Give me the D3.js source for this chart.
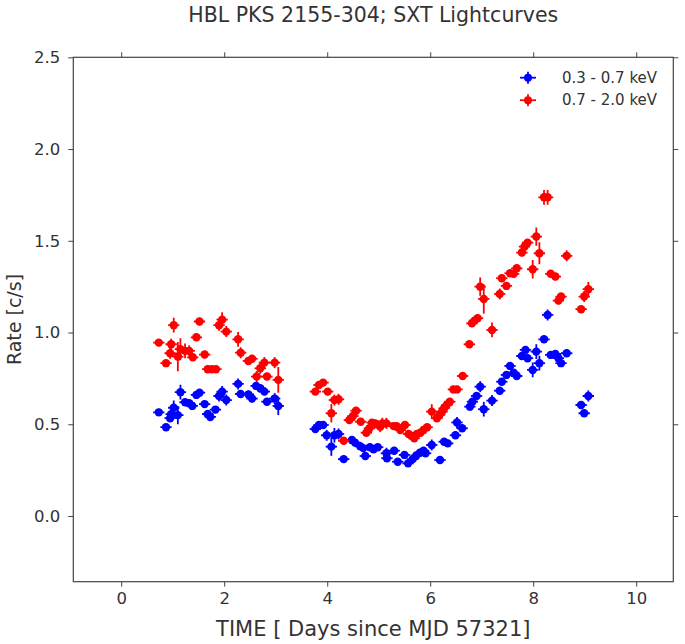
<!DOCTYPE html>
<html>
<head>
<meta charset="utf-8">
<script src="https://cdn.jsdelivr.net/npm/d3@7"></script>
<style>
  html, body { margin: 0; padding: 0; background: #ffffff; }
  svg { display: block; font-family: "DejaVu Sans", sans-serif; }
</style>
</head>
<body>
<svg id="chart" width="685" height="644"></svg>
<script>
// ---- Data ----
const softTime = [0.73, 0.87, 0.95, 0.97, 1.02, 1.10, 1.15, 1.24, 1.32, 1.38, 1.46, 1.52, 1.62, 1.68, 1.73, 1.83, 1.90, 1.96, 2.04, 2.27, 2.32, 2.47, 2.54, 2.62, 2.70, 2.78, 2.83, 2.98, 3.05,
  3.77, 3.84, 3.92, 3.99, 4.08, 4.14, 4.22, 4.32, 4.48, 4.54, 4.64, 4.70, 4.74, 4.83, 4.90, 4.98, 5.15, 5.16, 5.30, 5.37, 5.50, 5.57, 5.66, 5.73, 5.80, 5.87, 5.91, 6.03, 6.19, 6.27, 6.34, 6.49, 6.52, 6.62,
  6.77, 6.82, 6.90, 6.97, 7.04, 7.20, 7.35, 7.39, 7.48, 7.55, 7.62, 7.68, 7.78, 7.85, 7.89, 7.99, 8.06, 8.12, 8.21, 8.28, 8.34, 8.43, 8.49, 8.54, 8.65, 8.93, 8.99, 9.07];
const softRate = [0.565, 0.484, 0.533, 0.555, 0.59, 0.55, 0.675, 0.62, 0.615, 0.60, 0.66, 0.672, 0.61, 0.556, 0.54, 0.58, 0.654, 0.678, 0.632, 0.72, 0.665, 0.663, 0.64, 0.709, 0.696, 0.678, 0.623, 0.64, 0.60,
  0.474, 0.496, 0.496, 0.44, 0.378, 0.44, 0.447, 0.31, 0.414, 0.40, 0.38, 0.37, 0.327, 0.375, 0.364, 0.375, 0.342, 0.315, 0.356, 0.296, 0.333, 0.287, 0.31, 0.33, 0.345, 0.356, 0.342, 0.387, 0.305, 0.405, 0.396, 0.44, 0.51, 0.478,
  0.596, 0.623, 0.654, 0.705, 0.582, 0.629, 0.683, 0.732, 0.769, 0.818, 0.781, 0.763, 0.872, 0.905, 0.86, 0.796, 0.896, 0.833, 0.963, 1.096, 0.878, 0.883, 0.86, 0.833, 0.887, 0.605, 0.56, 0.654];
const softErr = [0.02, 0.02, 0.02, 0.03, 0.04, 0.05, 0.04, 0.02, 0.02, 0.02, 0.02, 0.02, 0.02, 0.02, 0.02, 0.02, 0.03, 0.03, 0.03, 0.03, 0.02, 0.02, 0.02, 0.02, 0.02, 0.02, 0.02, 0.03, 0.05,
  0.02, 0.02, 0.02, 0.03, 0.05, 0.04, 0.03, 0.02, 0.02, 0.02, 0.02, 0.02, 0.02, 0.02, 0.02, 0.02, 0.03, 0.02, 0.02, 0.02, 0.02, 0.02, 0.02, 0.02, 0.02, 0.02, 0.02, 0.03, 0.02, 0.02, 0.02, 0.02, 0.03, 0.02,
  0.02, 0.02, 0.02, 0.03, 0.04, 0.03, 0.02, 0.02, 0.02, 0.02, 0.02, 0.02, 0.02, 0.02, 0.02, 0.04, 0.04, 0.04, 0.02, 0.03, 0.02, 0.02, 0.02, 0.02, 0.02, 0.02, 0.02, 0.03];

const hardTime = [0.73, 0.87, 0.95, 0.97, 1.02, 1.10, 1.15, 1.24, 1.32, 1.39, 1.46, 1.52, 1.62, 1.68, 1.76, 1.84, 1.90, 1.96, 2.04, 2.27, 2.32, 2.47, 2.54, 2.63, 2.70, 2.78, 2.83, 2.98, 3.05,
  3.77, 3.84, 3.92, 4.01, 4.08, 4.14, 4.22, 4.32, 4.43, 4.50, 4.56, 4.65, 4.76, 4.82, 4.87, 4.93, 4.96, 5.03, 5.07, 5.15, 5.29, 5.35, 5.42, 5.51, 5.58, 5.64, 5.69, 5.74, 5.81, 5.87, 5.94, 6.03, 6.13, 6.18, 6.23, 6.27, 6.32, 6.38, 6.45, 6.52, 6.63,
  6.76, 6.81, 6.86, 6.92, 6.97, 7.04, 7.20, 7.35, 7.39, 7.48, 7.55, 7.62, 7.68, 7.78, 7.83, 7.89, 7.99, 8.06, 8.12, 8.21, 8.28, 8.34, 8.43, 8.49, 8.54, 8.65, 8.93, 8.99, 9.07];
const hardRate = [0.945, 0.833, 0.887, 0.936, 1.04, 0.869, 0.909, 0.90, 0.90, 0.865, 0.974, 1.06, 0.88, 0.80, 0.80, 0.80, 1.04, 1.07, 1.005, 0.963, 0.89, 0.845, 0.857, 0.76, 0.805, 0.836, 0.76, 0.836, 0.742,
  0.678, 0.714, 0.727, 0.678, 0.56, 0.632, 0.636, 0.41, 0.523, 0.545, 0.574, 0.514, 0.454, 0.478, 0.509, 0.505, 0.50, 0.487, 0.505, 0.505, 0.49, 0.49, 0.469, 0.496, 0.447, 0.436, 0.424, 0.447, 0.454, 0.469, 0.484, 0.569, 0.533, 0.551, 0.569, 0.587, 0.605, 0.623, 0.69, 0.69, 0.763,
  0.936, 1.05, 1.065, 1.078, 1.25, 1.183, 1.014, 1.21, 1.296, 1.254, 1.323, 1.32, 1.35, 1.436, 1.468, 1.49, 1.345, 1.523, 1.432, 1.737, 1.737, 1.32, 1.305, 1.174, 1.196, 1.418, 1.127, 1.196, 1.236];
const hardErr = [0.02, 0.02, 0.03, 0.03, 0.04, 0.08, 0.06, 0.04, 0.03, 0.02, 0.02, 0.02, 0.02, 0.02, 0.02, 0.02, 0.03, 0.04, 0.03, 0.04, 0.03, 0.02, 0.02, 0.03, 0.03, 0.03, 0.02, 0.03, 0.07,
  0.02, 0.02, 0.02, 0.02, 0.05, 0.03, 0.03, 0.02, 0.02, 0.02, 0.02, 0.02, 0.02, 0.02, 0.02, 0.02, 0.02, 0.03, 0.03, 0.03, 0.02, 0.02, 0.02, 0.02, 0.02, 0.02, 0.02, 0.02, 0.02, 0.02, 0.02, 0.04, 0.02, 0.02, 0.02, 0.02, 0.02, 0.02, 0.02, 0.02, 0.02,
  0.02, 0.02, 0.02, 0.02, 0.05, 0.08, 0.04, 0.03, 0.02, 0.02, 0.02, 0.02, 0.02, 0.02, 0.02, 0.02, 0.05, 0.05, 0.06, 0.04, 0.04, 0.02, 0.02, 0.02, 0.02, 0.03, 0.02, 0.03, 0.04];

const timeHalfBin = 0.11;
const xTicks = [0, 2, 4, 6, 8, 10];
const yTicks = [0.0, 0.5, 1.0, 1.5, 2.0, 2.5];
const seriesNames = ["0.3 - 0.7 keV", "0.7 - 2.0 keV"];
const seriesColors = ["#0000ff", "#ff0000"];
const titleText = "HBL PKS 2155-304; SXT Lightcurves";
const xLabelText = "TIME [ Days since MJD 57321]";
const yLabelText = "Rate [c/s]";

// ---- Layout ----
const margin = { left: 73.3, right: 685 - 673.3, top: 57.3, bottom: 644 - 581.7 };
const W = 685, H = 644;
const innerW = W - margin.left - margin.right;
const innerH = H - margin.top - margin.bottom;

const svg = d3.select("#chart");
const g = svg.append("g").attr("transform", `translate(${margin.left},${margin.top})`);

const x = d3.scaleLinear().domain([-0.93, 10.72]).range([0, innerW]);
const y = d3.scaleLinear().domain([-0.358, 2.5]).range([innerH, 0]);

const axisColor = "#444444";
const textColor = "#333333";

function styleAxis(sel) {
  sel.select(".domain").remove();
  sel.selectAll(".tick line").attr("stroke", axisColor).attr("stroke-width", 1);
  sel.selectAll(".tick text").attr("fill", textColor).attr("font-size", "16.5px")
     .attr("font-family", "DejaVu Sans, sans-serif");
}

g.append("g").attr("transform", `translate(0,${innerH})`)
  .call(d3.axisBottom(x).tickValues(xTicks).tickFormat(d3.format("d")).tickSizeInner(5).tickSizeOuter(0).tickPadding(6))
  .call(styleAxis);
g.append("g")
  .call(d3.axisTop(x).tickValues(xTicks).tickFormat("").tickSizeInner(5).tickSizeOuter(0))
  .call(styleAxis);
g.append("g")
  .call(d3.axisLeft(y).tickValues(yTicks).tickFormat(d3.format(".1f")).tickSizeInner(5).tickSizeOuter(0).tickPadding(8))
  .call(styleAxis);
g.append("g").attr("transform", `translate(${innerW},0)`)
  .call(d3.axisRight(y).tickValues(yTicks).tickFormat("").tickSizeInner(5).tickSizeOuter(0))
  .call(styleAxis);

g.append("rect").attr("x", 0).attr("y", 0).attr("width", innerW).attr("height", innerH)
  .attr("fill", "none").attr("stroke", axisColor).attr("stroke-width", 1.2);

// ---- Data series ----
const series = [
  { name: seriesNames[0], color: seriesColors[0], t: softTime, v: softRate, e: softErr },
  { name: seriesNames[1], color: seriesColors[1], t: hardTime, v: hardRate, e: hardErr }
];

g.append("clipPath").attr("id", "clip").append("rect")
  .attr("width", innerW).attr("height", innerH);
const plot = g.append("g").attr("clip-path", "url(#clip)");

series.forEach(s => {
  const pts = s.t.map((t, i) => ({ t, v: s.v[i], e: s.e[i] }));
  const sg = plot.append("g");
  sg.selectAll("line.ey").data(pts).join("line").attr("class", "ey")
    .attr("x1", d => x(d.t)).attr("x2", d => x(d.t))
    .attr("y1", d => y(d.v - d.e)).attr("y2", d => y(d.v + d.e))
    .attr("stroke", s.color).attr("stroke-width", 1.8);
  sg.selectAll("line.ex").data(pts).join("line").attr("class", "ex")
    .attr("x1", d => x(d.t - timeHalfBin)).attr("x2", d => x(d.t + timeHalfBin))
    .attr("y1", d => y(d.v)).attr("y2", d => y(d.v))
    .attr("stroke", s.color).attr("stroke-width", 1.8);
  sg.selectAll("circle").data(pts).join("circle")
    .attr("cx", d => x(d.t)).attr("cy", d => y(d.v)).attr("r", 4.2)
    .attr("fill", s.color);
});

// ---- Legend ----
const legend = svg.append("g");
series.forEach((s, i) => {
  const ly = 77.7 + i * 22.5;
  const lx = 528;
  legend.append("line").attr("x1", lx - 8).attr("x2", lx + 8).attr("y1", ly).attr("y2", ly)
    .attr("stroke", s.color).attr("stroke-width", 1.8);
  legend.append("line").attr("x1", lx).attr("x2", lx).attr("y1", ly - 6).attr("y2", ly + 6)
    .attr("stroke", s.color).attr("stroke-width", 1.8);
  legend.append("circle").attr("cx", lx).attr("cy", ly).attr("r", 4).attr("fill", s.color);
  legend.append("text").attr("x", 562).attr("y", ly).attr("dy", "0.35em")
    .attr("font-size", "15px").attr("fill", textColor).text(s.name);
});

// ---- Titles ----
svg.append("text").attr("x", margin.left + innerW / 2).attr("y", 22)
  .attr("text-anchor", "middle").attr("font-size", "20.5px").attr("fill", textColor).text(titleText);
svg.append("text").attr("x", margin.left + innerW / 2).attr("y", 636)
  .attr("text-anchor", "middle").attr("font-size", "21px").attr("fill", textColor).text(xLabelText);
svg.append("text").attr("transform", `translate(21,${margin.top + innerH / 2}) rotate(-90)`)
  .attr("text-anchor", "middle").attr("font-size", "19px").attr("fill", textColor).text(yLabelText);
</script>
</body>
</html>
